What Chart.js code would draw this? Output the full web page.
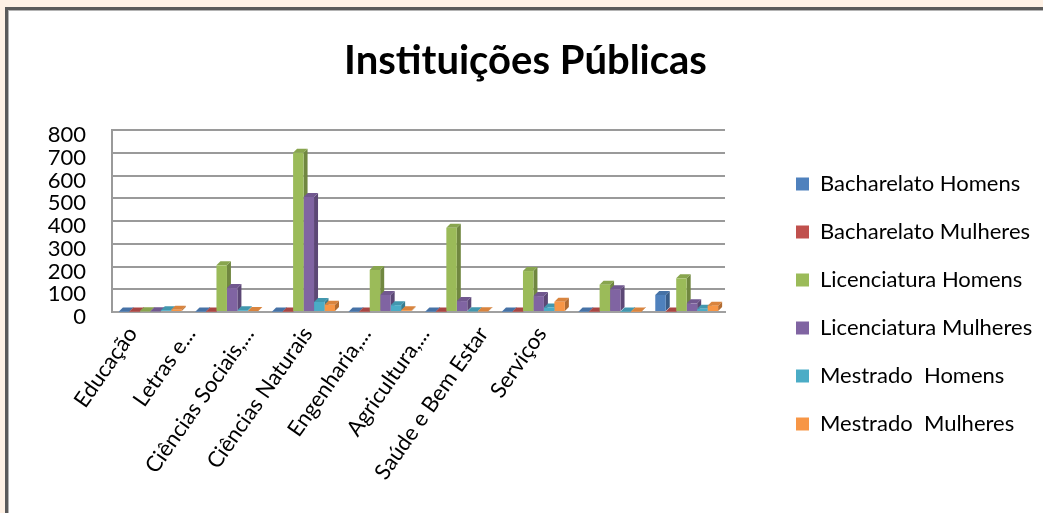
<!DOCTYPE html>
<html>
<head>
<meta charset="utf-8">
<script src="https://cdn.jsdelivr.net/npm/chart.js@4.4.1/dist/chart.umd.min.js"></script>
<style>
  html, body { margin: 0; padding: 0; background: #fef1e5; overflow: hidden; }
  #frame {
    position: absolute; left: 5px; top: 7px; width: 1200px; height: 700px;
    background: #fff;
    border-top: 3px solid #5a5a5a; border-left: 3px solid #5a5a5a;
    box-shadow: inset 1px 1px 0 #b4b4b4;
  }
  canvas { display: block; }
</style>
</head>
<body>
<div id="frame"><canvas id="chart" width="1035" height="588"></canvas></div>
<script>
const categories = ['Educação', 'Letras e...', 'Ciências Sociais,...', 'Ciências Naturais',
  'Engenharia,...', 'Agricultura,...', 'Saúde e Bem Estar', 'Serviços'];
const yTicks = [0, 100, 200, 300, 400, 500, 600, 700, 800];

const bacharelatoHomens    = [2, 2, 2, 2, 2, 2, 2, 75];
const bacharelatoMulheres  = [2, 2, 2, 2, 2, 2, 2, 2];
const licenciaturaHomens   = [3, 205, 700, 185, 370, 180, 120, 148];
const licenciaturaMulheres = [3, 105, 505, 75, 48, 70, 100, 38];
const mestradoHomens       = [8, 8, 44, 30, 3, 20, 2, 14];
const mestradoMulheres     = [10, 4, 32, 8, 3, 45, 2, 28];

const series = [
  { label: 'Bacharelato Homens', data: bacharelatoHomens, color: '#4f81bd' },
  { label: 'Bacharelato Mulheres', data: bacharelatoMulheres, color: '#c0504d' },
  { label: 'Licenciatura Homens', data: licenciaturaHomens, color: '#9bbb59' },
  { label: 'Licenciatura Mulheres', data: licenciaturaMulheres, color: '#8064a2' },
  { label: 'Mestrado  Homens', data: mestradoHomens, color: '#4bacc6' },
  { label: 'Mestrado  Mulheres', data: mestradoMulheres, color: '#f79646' }
];

const FONT = 'Lato, "Open Sans", sans-serif';
const DX = 4, DY = 4;           // depth of the fake 3D faces
const LEGEND_W = 273;
const X2_LEFT = 95, X2_RIGHT = 563;

function shade(hex, f) {
  const n = parseInt(hex.slice(1), 16);
  const r = Math.round(((n >> 16) & 255) * f);
  const g = Math.round(((n >> 8) & 255) * f);
  const b = Math.round((n & 255) * f);
  return `rgb(${r},${g},${b})`;
}

// side and top faces, painted before the fronts so neighbours cover them
const bars3d = {
  id: 'bars3d',
  beforeDatasetsDraw(chart) {
    const ctx = chart.ctx;
    ctx.save();
    chart.data.datasets.forEach((ds, i) => {
      chart.getDatasetMeta(i).data.forEach(bar => {
        const { x, y, base, width } = bar.getProps(['x', 'y', 'base', 'width'], true);
        const l = x - width / 2, r = x + width / 2;
        ctx.fillStyle = shade(ds.backgroundColor, 0.72);
        ctx.beginPath();
        ctx.moveTo(r, y); ctx.lineTo(r + DX, y - DY); ctx.lineTo(r + DX, base - DY); ctx.lineTo(r, base);
        ctx.closePath(); ctx.fill();
        ctx.fillStyle = shade(ds.backgroundColor, 0.88);
        ctx.beginPath();
        ctx.moveTo(l, y); ctx.lineTo(l + DX, y - DY); ctx.lineTo(r + DX, y - DY); ctx.lineTo(r, y);
        ctx.closePath(); ctx.fill();
      });
    });
    ctx.restore();
  }
};

// fixed legend width, and a narrower span for the category labels
const layoutTweaks = {
  id: 'layoutTweaks',
  beforeLayout(chart) {
    const lg = chart.legend;
    if (lg && !lg._fixedW) {
      const fit = lg.fit.bind(lg);
      lg.fit = function () { fit(); this.width = LEGEND_W; };
      lg._fixedW = true;
    }
  },
  afterLayout(chart) {
    const s = chart.scales.x2;
    s.left = X2_LEFT; s.right = X2_RIGHT; s.width = X2_RIGHT - X2_LEFT;
    s.configure();
    s._labelItems = null;
  }
};

Chart.defaults.color = '#000';
Chart.defaults.font.family = FONT;

new Chart(document.getElementById('chart'), {
  type: 'bar',
  data: {
    labels: categories,
    datasets: series.map(s => ({
      label: s.label,
      data: s.data,
      backgroundColor: s.color,
      borderWidth: 0,
      categoryPercentage: 0.82,
      barPercentage: 1
    }))
  },
  options: {
    responsive: false,
    animation: false,
    events: [],
    layout: { padding: 0 },
    plugins: {
      title: {
        display: true,
        text: 'Instituições Públicas',
        font: { family: FONT, size: 40, weight: 'bold', lineHeight: 1.2 },
        color: '#000',
        padding: { top: 27, bottom: 45 }
      },
      legend: {
        position: 'right',
        align: 'center',
        labels: {
          boxWidth: 13,
          boxHeight: 13,
          padding: 26,
          font: { family: FONT, size: 22 },
          color: '#000'
        }
      },
      tooltip: { enabled: false }
    },
    scales: {
      x: {
        grid: { display: false, drawTicks: false },
        border: { display: true, color: '#a0a0a0', width: 2 },
        ticks: { display: false },
        afterFit(s) { s.height = 0; }
      },
      x2: {
        type: 'category',
        labels: categories,
        position: 'bottom',
        offset: true,
        grid: { display: false, drawTicks: false },
        border: { display: false },
        ticks: {
          autoSkip: false,
          minRotation: 55,
          maxRotation: 55,
          padding: 10,
          font: { family: FONT, size: 22 },
          color: '#000'
        },
        afterFit(s) { s.height = 286; }
      },
      y: {
        min: 0,
        max: 800,
        afterBuildTicks(s) { s.ticks = yTicks.map(v => ({ value: v })); },
        grid: { color: '#9a9a9a', lineWidth: 2, drawTicks: false },
        border: { display: true, color: '#9a9a9a', width: 2 },
        ticks: {
          autoSkip: false,
          padding: 26,
          labelOffset: 5,
          font: { family: FONT, size: 22, lineHeight: 1 },
          color: '#000'
        },
        afterFit(s) { s.width = 104; }
      },
      y2: {
        position: 'right',
        grid: { display: false, drawTicks: false },
        border: { display: false },
        ticks: { display: false },
        afterFit(s) { s.width = 45; }
      }
    }
  },
  plugins: [bars3d, layoutTweaks]
});
</script>
</body>
</html>
